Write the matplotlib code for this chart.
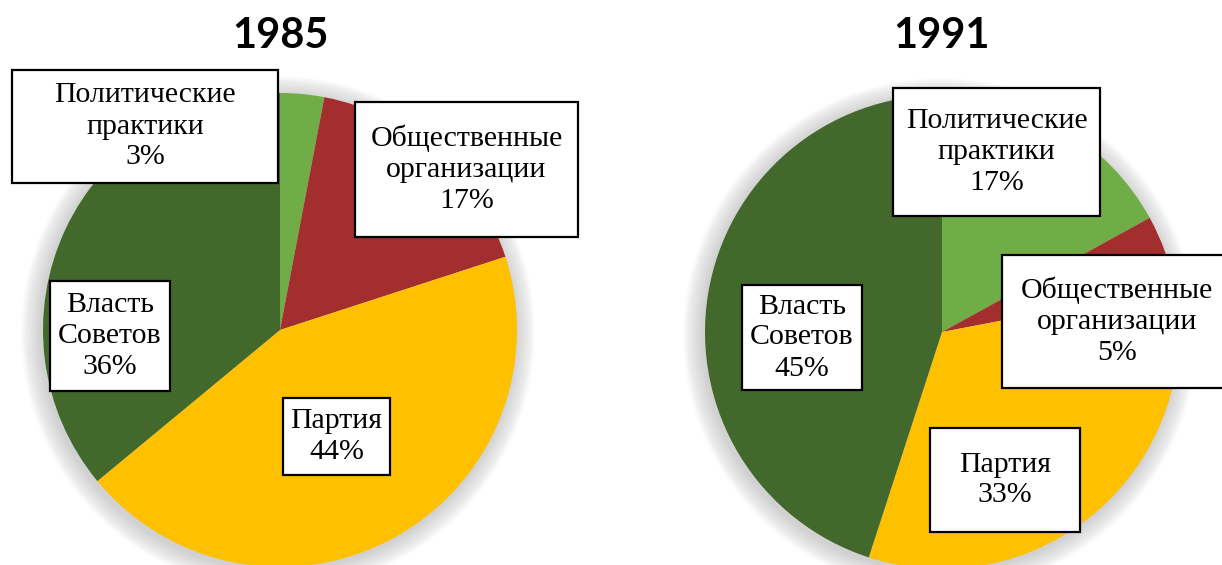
import matplotlib
matplotlib.use('Agg')
import matplotlib.pyplot as plt
from matplotlib.patches import Circle, Rectangle

# data
categories = ['Политические\nпрактики', 'Общественные\nорганизации', 'Партия', 'Власть\nСоветов']
values_1985 = [3, 17, 44, 36]
values_1991 = [17, 5, 33, 45]
years = ['1985', '1991']
colors = ['#70AD47', '#A32E2E', '#FFC000', '#43682B']

W, H = 1222, 565

# layout (pixels from top-left): pie centers, radius, label boxes
centers = [(280, 330), (942, 332)]
radius = 237
boxes = [
    [(12, 70, 278, 183), (355, 102, 578, 237), (283, 398, 390, 475), (50, 281, 170, 391)],
    [(893, 88, 1100, 216), (1002, 255, 1232, 388), (930, 428, 1080, 532), (742, 285, 862, 390)],
]

fig = plt.figure(figsize=(W / 100, H / 100), dpi=100)
ax = fig.add_axes([0, 0, 1, 1])

for i, vals in enumerate([values_1985, values_1991]):
    cx, cy = centers[i]
    cy = H - cy
    # soft shadow
    for k in range(20, 0, -1):
        ax.add_patch(Circle((cx - 2, cy - 3), radius + k, color='#999999', alpha=0.022, lw=0, zorder=1))
    ax.pie(vals, colors=colors, startangle=90, counterclock=False, center=(cx, cy),
           radius=radius, frame=True, wedgeprops=dict(linewidth=0, zorder=2))
    # labels
    for j, (name, v) in enumerate(zip(categories, vals)):
        x0, y0, x1, y1 = boxes[i][j]
        ax.add_patch(Rectangle((x0, H - y1), x1 - x0, y1 - y0, fc='white', ec='black',
                               lw=1.6, zorder=5, clip_on=False))
        ax.text((x0 + x1) / 2, H - (y0 + y1) / 2, f'{name}\n{v}%', ha='center', va='center',
                fontsize=21.5, family='Liberation Serif', linespacing=1.25, zorder=6)
    ax.text(centers[i][0], H - 36, years[i], ha='center', va='center', fontsize=30,
            fontweight='bold', family='Lato', zorder=6)

ax.set_xlim(0, W)
ax.set_ylim(0, H)
ax.set_aspect('equal')
ax.axis('off')
fig.savefig('out.png', dpi=100)
